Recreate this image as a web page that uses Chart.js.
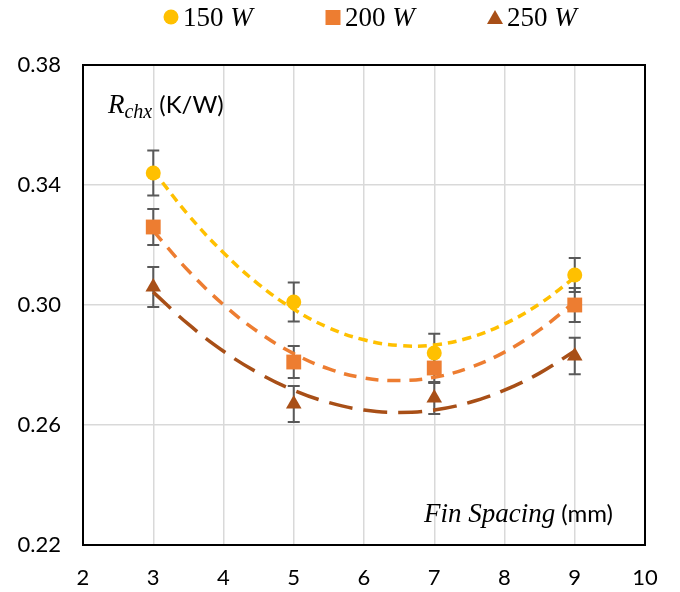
<!DOCTYPE html>
<html>
<head>
<meta charset="utf-8">
<script src="https://cdn.jsdelivr.net/npm/chart.js@4.4.1/dist/chart.umd.min.js"></script>
<style>
  html, body { margin: 0; padding: 0; background: #fff; }
  #wrap { width: 680px; height: 592px; position: relative; }
</style>
</head>
<body>
<div id="wrap"><canvas id="rchxChart" width="680" height="592"></canvas></div>
<script>
// fin spacing (mm)
const spacing = [3, 5, 7, 9];

// measured R_chx (K/W)
const r150 = [0.344, 0.301, 0.284, 0.310];
const r200 = [0.326, 0.281, 0.279, 0.300];
const r250 = [0.306, 0.267, 0.269, 0.283];

// error bar half-widths
const err150 = [0.0075, 0.0065, 0.0064, 0.0057];
const err200 = [0.0060, 0.0053, 0.0050, 0.0057];
const err250 = [0.0067, 0.0060, 0.0053, 0.0061];

// dashed trendlines, every half mm
const trendX = [3, 3.5, 4, 4.5, 5, 5.5, 6, 6.5, 7, 7.5, 8, 8.5, 9];
const trend150 = [0.3448, 0.3300, 0.3174, 0.3069, 0.2986, 0.2924, 0.2884, 0.2865, 0.2867, 0.2891, 0.2937, 0.3004, 0.3092];
const trend200 = [0.3247, 0.3114, 0.3001, 0.2909, 0.2838, 0.2787, 0.2757, 0.2748, 0.2759, 0.2791, 0.2843, 0.2917, 0.3010];
const trend250 = [0.3043, 0.2936, 0.2846, 0.2773, 0.2716, 0.2675, 0.2650, 0.2642, 0.2650, 0.2675, 0.2716, 0.2773, 0.2847];

const seriesNames = ['150', '200', '250'];
const colors = ['#FFC000', '#ED7D31', '#A84F17'];
const markers = ['circle', 'rect', 'triangle'];

const toPoints = (xs, ys) => xs.map((x, i) => ({ x: x, y: ys[i] }));

const tickFont = { family: 'Lato', size: 22 };

// error bars drawn under the markers
const errorBars = {
    id: 'errorBars',
    beforeDatasetsDraw(chart) {
        const { ctx, scales: { x, y } } = chart;
        const sets = [[r150, err150], [r200, err200], [r250, err250]];
        ctx.save();
        ctx.strokeStyle = '#595959';
        ctx.lineWidth = 2;
        sets.forEach(([vals, errs]) => {
            vals.forEach((v, i) => {
                const px = x.getPixelForValue(spacing[i]);
                const top = y.getPixelForValue(v + errs[i]);
                const bot = y.getPixelForValue(v - errs[i]);
                ctx.beginPath();
                ctx.moveTo(px, top); ctx.lineTo(px, bot);
                ctx.moveTo(px - 6, top); ctx.lineTo(px + 6, top);
                ctx.moveTo(px - 6, bot); ctx.lineTo(px + 6, bot);
                ctx.stroke();
            });
        });
        ctx.restore();
    }
};

// plot frame, legend and the two in-plot labels
const decorations = {
    id: 'decorations',
    afterDraw(chart) {
        const { ctx, chartArea: a } = chart;
        ctx.save();
        ctx.strokeStyle = '#000';
        ctx.lineWidth = 2;
        ctx.strokeRect(a.left, a.top, a.right - a.left, a.bottom - a.top);

        // legend
        ctx.textBaseline = 'alphabetic';
        seriesNames.forEach((name, i) => {
            const mx = 171 + i * 162;
            const my = 17;
            ctx.fillStyle = colors[i];
            ctx.beginPath();
            if (i === 0) {
                ctx.arc(mx, my, 7.5, 0, Math.PI * 2);
            } else if (i === 1) {
                ctx.rect(mx - 7.5, my - 7, 15, 15);
            } else {
                ctx.moveTo(mx, my - 7);
                ctx.lineTo(mx + 8, my + 7);
                ctx.lineTo(mx - 8, my + 7);
                ctx.closePath();
            }
            ctx.fill();
            ctx.fillStyle = '#000';
            ctx.font = '27px "Liberation Serif"';
            let tx = mx + 12;
            ctx.fillText(name + ' ', tx, 26);
            tx += ctx.measureText(name + ' ').width;
            ctx.font = 'italic 27px "Liberation Serif"';
            ctx.fillText('W', tx, 26);
        });

        // y label inside plot
        let lx = a.left + 25;
        const ly = a.top + 48;
        ctx.font = 'italic 27px "Liberation Serif"';
        ctx.fillText('R', lx, ly);
        lx += ctx.measureText('R').width;
        ctx.font = 'italic 20px "Liberation Serif"';
        ctx.fillText('chx', lx, ly + 5);
        lx += ctx.measureText('chx').width + 7;
        ctx.font = '24px Lato';
        ctx.fillText('(K/W)', lx, ly);

        // x label inside plot
        ctx.font = '24px Lato';
        const unit = '(mm)';
        const uw = ctx.measureText(unit).width;
        const rx = a.right - 32;
        const by = a.bottom - 23;
        ctx.fillText(unit, rx - uw, by);
        ctx.font = 'italic 27px "Liberation Serif"';
        const fw = ctx.measureText('Fin Spacing').width;
        ctx.fillText('Fin Spacing', rx - uw - 6 - fw, by);
        ctx.restore();
    }
};

const pointSets = [r150, r200, r250].map((vals, i) => ({
    label: seriesNames[i] + ' W',
    data: toPoints(spacing, vals),
    pointStyle: markers[i],
    pointRadius: [7.5, 10.5, 9][i],
    pointHoverRadius: [7.5, 10.5, 9][i],
    backgroundColor: colors[i],
    borderColor: colors[i],
    borderWidth: 0,
    showLine: false
}));

const trendSets = [trend150, trend200, trend250].map((vals, i) => ({
    label: 'trend ' + seriesNames[i],
    data: toPoints(trendX, vals),
    showLine: true,
    pointRadius: 0,
    borderColor: colors[i],
    borderWidth: 3.5,
    borderDash: [[9, 6], [13, 9], [24, 11]][i],
    tension: 0.4,
    fill: false
}));

new Chart(document.getElementById('rchxChart').getContext('2d'), {
    type: 'scatter',
    data: { datasets: pointSets.concat(trendSets) },
    options: {
        responsive: false,
        animation: false,
        layout: { padding: { top: 65, right: 35, left: 0, bottom: 0 } },
        plugins: {
            legend: { display: false },
            tooltip: { enabled: false }
        },
        scales: {
            x: {
                type: 'linear',
                min: 2,
                max: 10,
                ticks: { stepSize: 1, font: tickFont, color: '#000', padding: 20 },
                grid: { color: '#D9D9D9', lineWidth: 1.5, drawTicks: false },
                border: { display: false },
                afterFit: s => { s.height = 47; }
            },
            y: {
                min: 0.22,
                max: 0.38,
                ticks: {
                    stepSize: 0.04,
                    font: tickFont,
                    color: '#000',
                    padding: 22,
                    callback: v => v.toFixed(2)
                },
                grid: { color: '#D9D9D9', lineWidth: 1.5, drawTicks: false },
                border: { display: false },
                afterFit: s => { s.width = 83; }
            }
        }
    },
    plugins: [errorBars, decorations]
});
</script>
</body>
</html>
